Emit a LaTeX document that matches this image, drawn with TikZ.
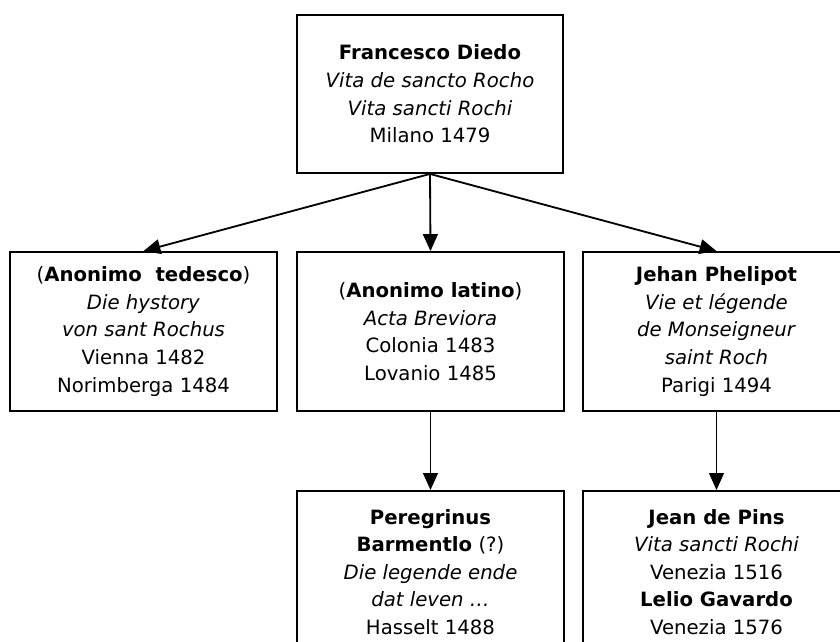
\documentclass[tikz,border=0pt]{standalone}
\usepackage{fontspec}
\setmainfont{DejaVu Sans}
\usetikzlibrary{arrows.meta}

\tikzset{
  box/.style={draw, line width=1.3pt, align=center, inner sep=0pt,
    font=\fontsize{14}{19.6}\selectfont},
  rowbox/.style={box, minimum width=6.675cm, minimum height=3.975cm},
  lowbox/.style={box, anchor=north, minimum width=6.675cm, inner ysep=13pt}
}

\begin{document}
\begin{tikzpicture}[x=0.025cm, y=-0.025cm,
  >={Triangle[length=12pt,width=10.5pt]}]
\useasboundingbox (0,0) rectangle (840,642);
\clip (0,0) rectangle (840,642);

% source
\node[box, minimum width=6.65cm, minimum height=3.95cm] (diedo) at (430,94)
  {\textbf{Francesco Diedo}\\ \textit{Vita de sancto Rocho}\\
   \textit{Vita sancti Rochi}\\ Milano 1479};

% first translations
\node[rowbox] (tedesco) at (143.5,331.5)
  {(\textbf{Anonimo\ \ tedesco})\\ \textit{Die hystory}\\
   \textit{von sant Rochus}\\ Vienna 1482\\ Norimberga 1484};
\node[rowbox] (latino) at (430.5,331.5)
  {(\textbf{Anonimo latino})\\ \textit{Acta Breviora}\\
   Colonia 1483\\ Lovanio 1485};
\node[rowbox] (phelipot) at (716.5,331.5)
  {\textbf{Jehan Phelipot}\\ \textit{Vie et légende}\\
   \textit{de Monseigneur}\\ \textit{saint Roch}\\ Parigi 1494};

% later ones
\node[lowbox] (peregrinus) at (430.5,490)
  {\textbf{Peregrinus}\\ \textbf{Barmentlo} (?)\\
   \textit{Die legende ende}\\ \textit{dat leven …}\\ Hasselt 1488};
\node[lowbox] (pins) at (716.5,490)
  {\textbf{Jean de Pins}\\ \textit{Vita sancti Rochi}\\
   Venezia 1516\\ \textbf{Lelio Gavardo}\\ Venezia 1576};

\draw[->, line width=1.3pt] (diedo.south) -- (tedesco.north);
\draw[->, line width=1.3pt] (diedo.south) -- (latino.north);
\draw[->, line width=1.3pt] (diedo.south) -- (phelipot.north);
\draw[->, line width=1.3pt] (latino.south) -- (peregrinus.north);
\draw[->, line width=1.3pt] (phelipot.south) -- (pins.north);
\end{tikzpicture}
\end{document}
